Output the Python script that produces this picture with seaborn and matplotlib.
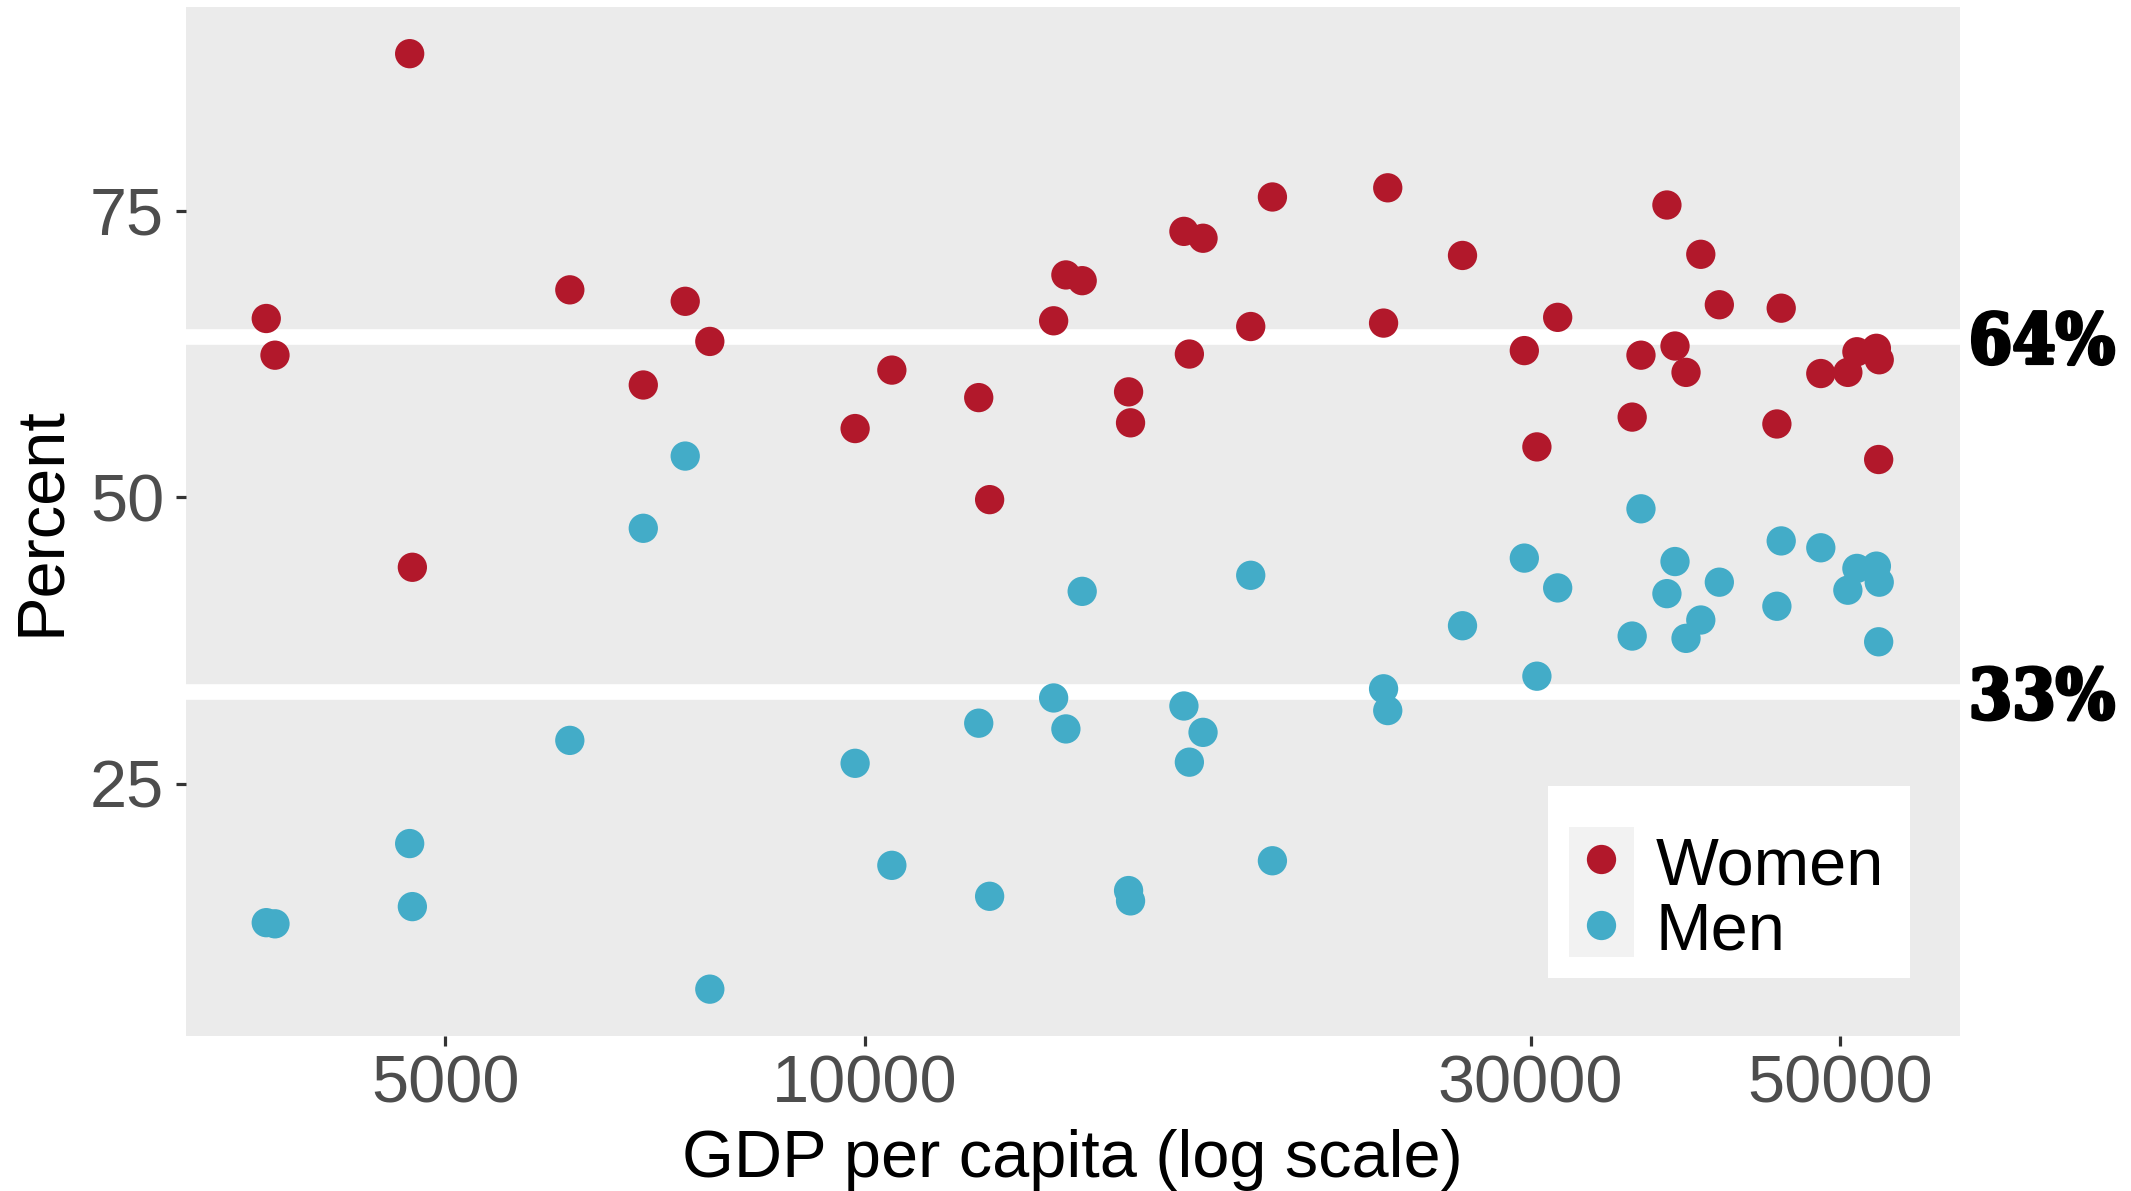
import numpy as np
import pandas as pd
import matplotlib
matplotlib.use('Agg')
import matplotlib.pyplot as plt
import matplotlib.transforms as mtransforms
import matplotlib.patheffects as pe
from matplotlib.patches import Rectangle
from matplotlib.ticker import FixedLocator, FixedFormatter, NullLocator
import seaborn as sns

# GDP per capita for each country
gdp = [3721, 3775, 4715, 4736, 6142, 6934, 7431, 7739, 9837, 10452,
       12064, 12283, 13652, 13931, 14311, 15450, 15500, 16928, 17081, 17471,
       18902, 19591, 23537, 23700, 26813, 29694, 30317, 31375, 35481, 36000,
       37576, 38081, 38780, 39737, 40972, 45056, 45379, 48444, 50657, 51419,
       53100, 53350, 53300]
women = [65.6, 62.4, 88.7, 43.9, 68.1, 59.8, 67.1, 63.6, 56.0, 61.1,
         58.7, 49.8, 65.4, 69.4, 68.9, 59.2, 56.5, 73.2, 62.5, 72.6,
         64.9, 76.2, 65.2, 77.0, 71.1, 62.8, 54.4, 65.7, 57.0, 62.4,
         75.5, 63.2, 60.9, 71.2, 66.8, 56.4, 66.5, 60.8, 60.9, 62.7,
         63.0, 62.0, 53.3]
men = [12.9, 12.8, 19.8, 14.3, 28.8, 47.3, 53.6, 7.1, 26.8, 17.9,
       30.3, 15.2, 32.5, 29.8, 41.8, 15.7, 14.8, 31.8, 26.9, 29.5,
       43.2, 18.3, 33.3, 31.4, 38.8, 44.7, 34.4, 42.1, 37.9, 49.0,
       41.6, 44.4, 37.7, 39.3, 42.6, 40.5, 46.2, 45.6, 41.9, 43.8,
       44.0, 42.6, 37.4]

sex_labels = ['Women', 'Men']
colors = {'Women': '#B2182B', 'Men': '#43ACC8'}
ref_lines = [64, 33]
ref_labels = ['64%', '33%']
x_ticks = [5000, 10000, 30000, 50000]
x_ticklabels = ['5000', '10000', '30000', '50000']
y_ticks = [25, 50, 75]

n = len(gdp)
df = pd.DataFrame({'gdp': gdp * 2,
                   'pct': women + men,
                   'sex': ['Women'] * n + ['Men'] * n})

sns.set_theme(style='white', rc={'axes.facecolor': '#EBEBEB'})
plt.rcParams['font.family'] = ['Liberation Sans', 'DejaVu Sans']

fig = plt.figure(figsize=(21.31, 11.91), dpi=100)
ax = fig.add_axes([0.0871, 0.1302, 0.8326, 0.8640])

# white reference lines under the points
for val in ref_lines:
    ax.axhline(val, color='white', lw=11.3, zorder=1)

sns.scatterplot(data=df, x='gdp', y='pct', hue='sex', hue_order=sex_labels,
                palette=colors, s=445, linewidth=0, legend=False, ax=ax, zorder=3)

ax.set_xscale('log')

# ggplot-like 5% expansion
lx = np.log10(df['gdp'])
rx = lx.max() - lx.min()
ry = df['pct'].max() - df['pct'].min()

ax.xaxis.set_major_locator(FixedLocator(x_ticks))
ax.xaxis.set_major_formatter(FixedFormatter(x_ticklabels))
ax.xaxis.set_minor_locator(NullLocator())
ax.set_yticks(y_ticks)
ax.grid(False)
for s in ax.spines.values():
    s.set_visible(False)

ax.tick_params(axis='both', which='major', length=7.4, width=2.3, color='#333333',
               labelcolor='#4D4D4D', labelsize=48, bottom=True, left=True)
ax.tick_params(axis='x', pad=6)
ax.tick_params(axis='y', pad=8)

ax.set_xlabel('GDP per capita (log scale)', fontsize=48, labelpad=9, color='black')
ax.set_ylabel('Percent', fontsize=48, labelpad=12, color='black')

# labels for the reference lines, just right of the panel
trans = mtransforms.blended_transform_factory(ax.transAxes, ax.transData)
for val, lab in zip(ref_lines, ref_labels):
    ax.text(1.005, val, lab, transform=trans, ha='left', va='center_baseline',
            fontsize=50, fontweight='bold', family='DejaVu Serif', stretch='condensed',
            color='black', clip_on=False,
            path_effects=[pe.withStroke(linewidth=2.5, foreground='black')])

# ggplot style legend inside the panel
ax.add_patch(Rectangle((0.7678, 0.0564), 0.204, 0.1866, transform=ax.transAxes,
                       facecolor='white', edgecolor='none', zorder=4))
ax.add_patch(Rectangle((0.7796, 0.0768), 0.0366, 0.1263, transform=ax.transAxes,
                       facecolor='#F2F2F2', edgecolor='none', zorder=5))
for lab, ym, yb in zip(sex_labels, [0.1720, 0.1079], [0.1467, 0.0836]):
    ax.scatter([0.7977], [ym], transform=ax.transAxes, s=445, color=colors[lab],
               linewidth=0, zorder=6, clip_on=False)
    ax.text(0.8287, yb, lab, transform=ax.transAxes, ha='left', va='baseline',
            fontsize=48, color='black', zorder=6)

ax.set_xlim(10 ** (lx.min() - 0.05 * rx), 10 ** (lx.max() + 0.05 * rx))
ax.set_ylim(df['pct'].min() - 0.05 * ry, df['pct'].max() + 0.05 * ry)

fig.savefig('out.png', dpi=100)
